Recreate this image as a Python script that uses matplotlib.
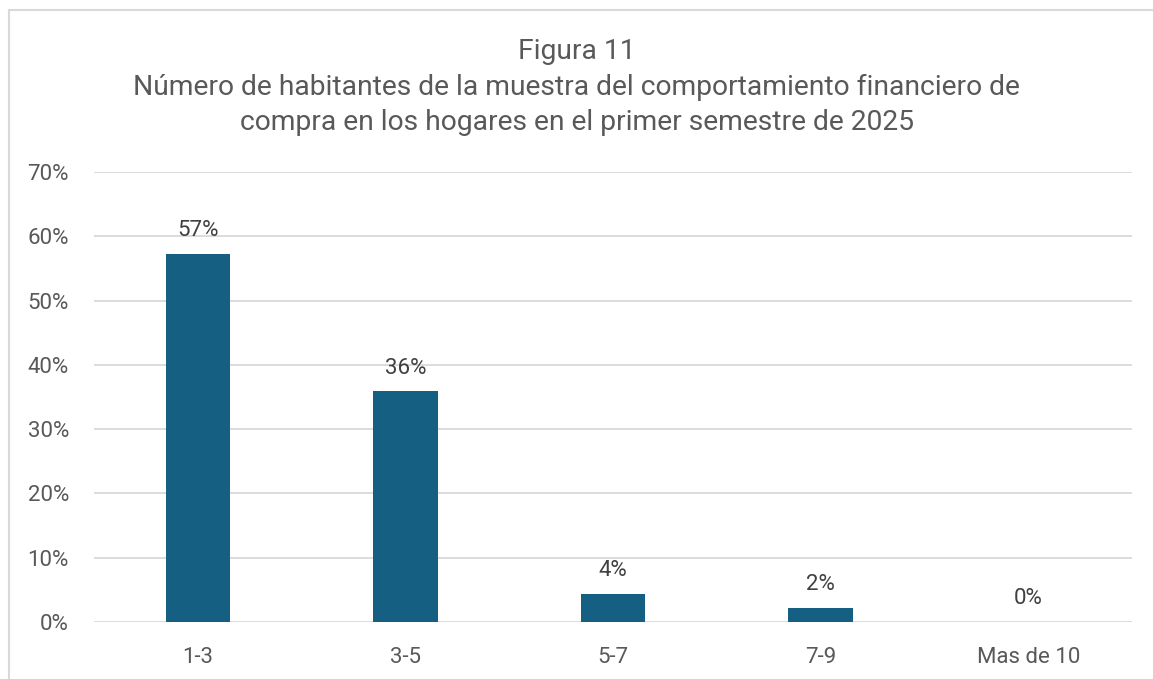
import matplotlib
matplotlib.use("Agg")
import matplotlib.pyplot as plt
from matplotlib.patches import Rectangle
from matplotlib.ticker import FuncFormatter

# datos
categorias = ["1-3", "3-5", "5-7", "7-9", "Mas de 10"]
porcentajes = [57.3, 35.9, 4.4, 2.2, 0.0]
etiquetas = ["57%", "36%", "4%", "2%", "0%"]
titulo = ("Figura 11\n"
          "Número de habitantes de la muestra del comportamiento financiero de\n"
          "compra en los hogares en el primer semestre de 2025")

plt.rcParams['font.family'] = ['Roboto', 'DejaVu Sans']

color_barra = '#156082'
color_texto = '#595959'
color_grid = '#D9D9D9'

fig = plt.figure(figsize=(11.53, 6.79), dpi=100)
ax = fig.add_axes([94 / 1153, 57 / 679, (1132 - 94) / 1153, (622 - 172) / 679])

x = range(len(categorias))
ax.bar(x, porcentajes, width=0.31, color=color_barra, zorder=3)

for xi, v, lab in zip(x, porcentajes, etiquetas):
    ax.annotate(lab, (xi, v), xytext=(0, 9), textcoords='offset points',
                ha='center', va='bottom', fontsize=16, color='#404040')

ax.set_xlim(-0.5, len(categorias) - 0.5)
ax.set_ylim(0, 70)
ax.set_yticks(range(0, 71, 10))
ax.yaxis.set_major_formatter(FuncFormatter(lambda v, p: f"{int(v)}%"))
ax.set_xticks(list(x))
ax.set_xticklabels(categorias)
ax.tick_params(axis='both', length=0, labelsize=16, labelcolor=color_texto)
ax.tick_params(axis='y', pad=18)
ax.tick_params(axis='x', pad=18)
ax.grid(axis='y', color=color_grid, linewidth=1.3, zorder=0)
for s in ax.spines.values():
    s.set_visible(False)

fig.text(0.5, 1 - 87 / 679, titulo, ha='center', va='center', fontsize=20.3,
         color=color_texto, linespacing=1.38)

# borde del grafico
fig.patches.append(Rectangle((9 / 1153, -0.05), 1.2, 1 - 10 / 679 + 0.05,
                             transform=fig.transFigure, fill=False,
                             edgecolor=color_grid, linewidth=1.5))

fig.savefig("out.png", dpi=100)
